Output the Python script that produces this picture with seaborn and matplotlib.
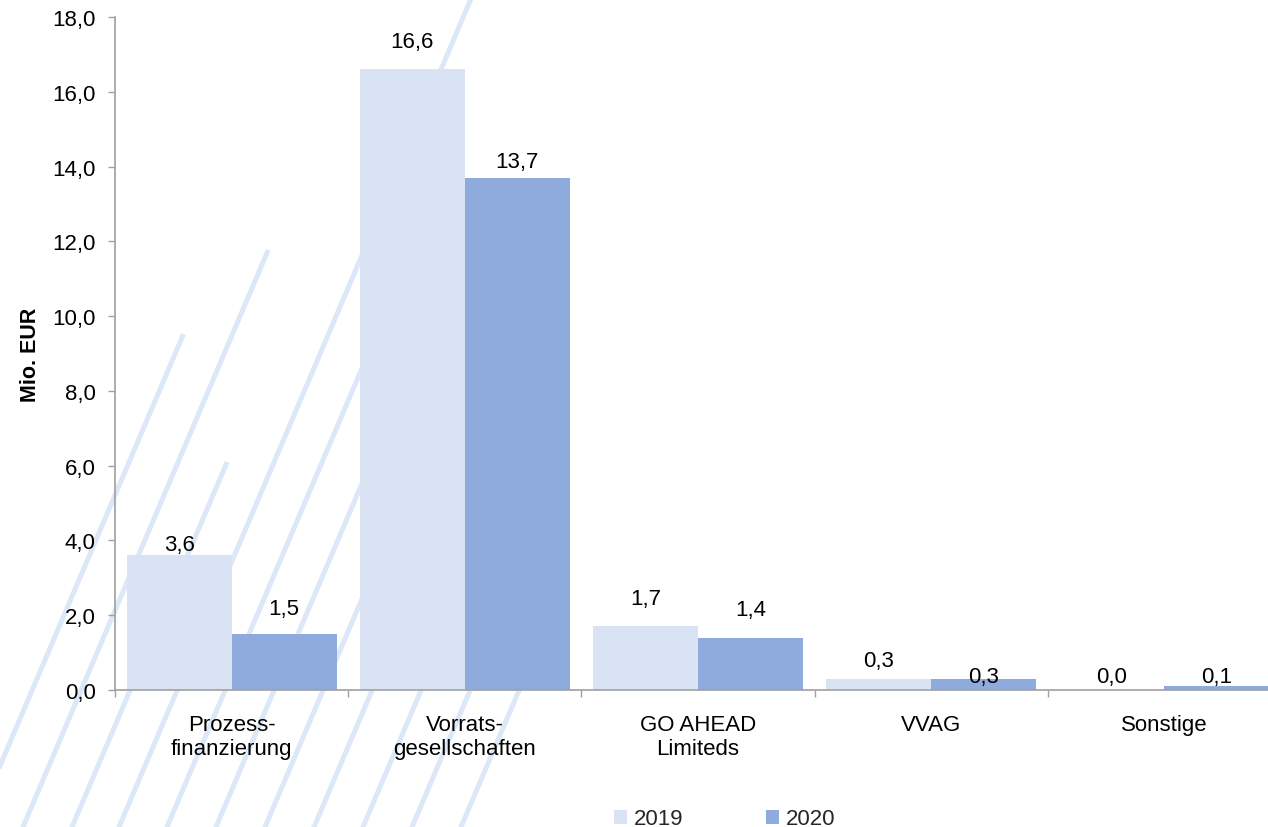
import matplotlib
matplotlib.use("Agg")
import matplotlib.pyplot as plt
from matplotlib.lines import Line2D
import seaborn as sns
import pandas as pd

# --- data ---------------------------------------------------------------
categories = ["Prozess-\nfinanzierung", "Vorrats-\ngesellschaften",
              "GO AHEAD\nLimiteds", "VVAG", "Sonstige"]
years = ["2019", "2020"]
values_2019 = [3.6, 16.6, 1.7, 0.3, 0.0]
values_2020 = [1.5, 13.7, 1.4, 0.3, 0.1]
y_ticks = [0, 2, 4, 6, 8, 10, 12, 14, 16, 18]

df = pd.DataFrame({
    "Kategorie": categories * 2,
    "Jahr": [years[0]] * len(categories) + [years[1]] * len(categories),
    "Wert": values_2019 + values_2020,
})

# --- styling ------------------------------------------------------------
sns.set_theme(style="white")
plt.rcParams["font.family"] = ["Liberation Sans", "DejaVu Sans"]

W, H = 1268, 828
fig = plt.figure(figsize=(W / 100, H / 100), dpi=100, facecolor="white")

# decorative diagonal stripes in the page background (pixel geometry)
stripe_color = "#dce8f8"
slope = 0.425                      # horizontal shift per pixel of height
stripe_bottoms = [-26, 23, 72, 119, 167, 216, 265, 314, 363, 412, 461]
stripe_tops = [335, 251, 463, -20, 150, 220, 300, 400, 450, 520, 600]
for xb, yt in zip(stripe_bottoms, stripe_tops):
    y0, y1 = H + 20, yt
    x0 = xb + slope * (H - y0)
    x1 = xb + slope * (H - y1)
    fig.add_artist(Line2D([x0 / W, x1 / W], [1 - y0 / H, 1 - y1 / H],
                          transform=fig.transFigure, color=stripe_color,
                          lw=3.6, solid_capstyle="butt", zorder=-5))

# axes extend slightly past the right edge of the figure
ax_left, ax_right, ax_top, ax_bottom = 115, 1281, 18, 691
ax = fig.add_axes([ax_left / W, 1 - ax_bottom / H,
                   (ax_right - ax_left) / W, (ax_bottom - ax_top) / H])
ax.patch.set_alpha(0)
ax.set_zorder(1)

palette = {"2019": "#dae3f3", "2020": "#8faadc"}
sns.barplot(data=df, x="Kategorie", y="Wert", hue="Jahr", hue_order=years,
            order=categories, palette=palette, width=0.9, errorbar=None,
            linewidth=0, saturation=1, ax=ax)

handles, labels = ax.get_legend_handles_labels()
if ax.get_legend() is not None:
    ax.get_legend().remove()

# value labels above the bars (offsets in points)
label_offsets = {
    "2019": [4, 16, 16, 9, 6],
    "2020": [14, 8, 16, -2, 3],
}
fs = 16
for container, year in zip(ax.containers, years):
    vals = values_2019 if year == "2019" else values_2020
    for bar, v, off in zip(container, vals, label_offsets[year]):
        ax.annotate(f"{v:.1f}".replace(".", ","),
                    (bar.get_x() + bar.get_width() / 2, bar.get_height()),
                    xytext=(0, off), textcoords="offset points",
                    ha="center", va="baseline", fontsize=fs, color="black")

# axes ranges and ticks
ax.set_xlim(-0.5, len(categories) - 0.5)
ax.set_ylim(0, 18)
ax.set_yticks(y_ticks)
ax.set_yticklabels([f"{t:.1f}".replace(".", ",") for t in y_ticks], fontsize=fs)
ax.set_xticks(range(len(categories)))
ax.set_xticklabels(categories, fontsize=fs, linespacing=1.2)
ax.set_xticks([i - 0.5 for i in range(len(categories) + 1)], minor=True)
ax.tick_params(axis="x", which="major", length=0, pad=17, colors="black")
ax.tick_params(axis="x", which="minor", length=5, width=1, color="#a0a0a0",
               direction="out", bottom=True)
ax.tick_params(axis="y", which="major", length=5, width=1, color="#a0a0a0",
               direction="out", left=True, pad=9, labelcolor="black")

for side in ["top", "right"]:
    ax.spines[side].set_visible(False)
for side in ["left", "bottom"]:
    ax.spines[side].set_color("#a0a0a0")
    ax.spines[side].set_linewidth(1.2)

ax.set_xlabel("")
ax.set_ylabel("Mio. EUR", fontsize=15.5, fontweight="bold", labelpad=8,
              color="black")
ax.grid(False)

# legend at the bottom of the page
fig.legend(handles, labels, loc="center left",
           bbox_to_anchor=(614 / W, 1 - 820 / H), ncol=2, frameon=False,
           fontsize=fs, handlelength=0.6, handleheight=0.6,
           handletextpad=0.3, columnspacing=3.7, borderpad=0,
           borderaxespad=0)

fig.savefig("out.png", dpi=100, facecolor="white")
